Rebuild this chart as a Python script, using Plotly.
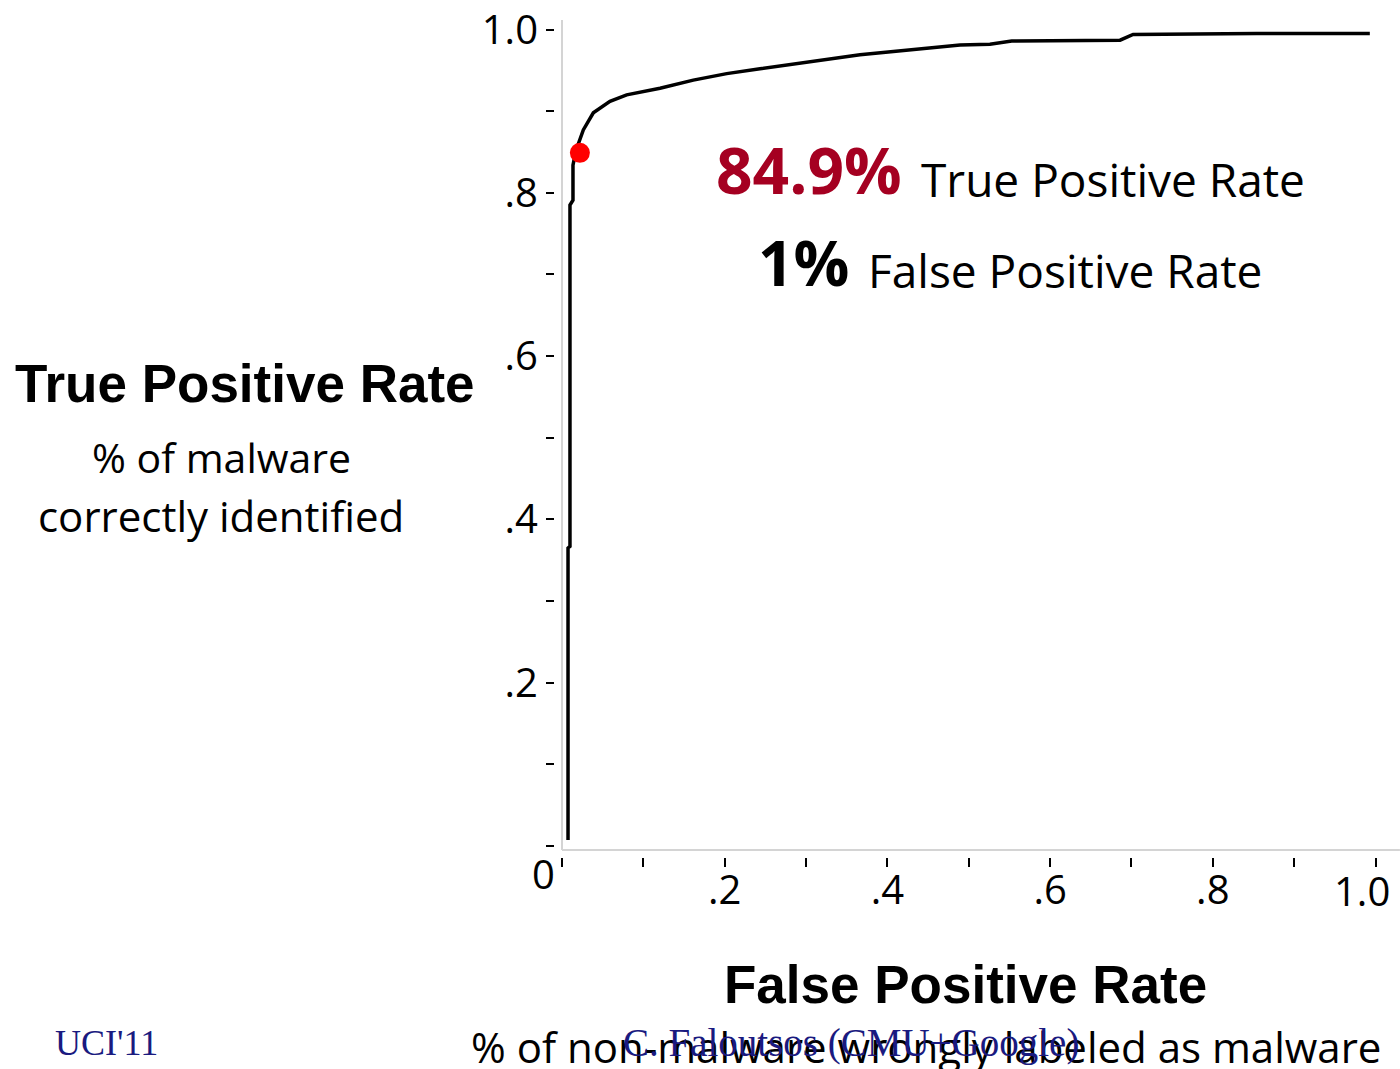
import plotly.graph_objects as go

# ROC curve data
fpr = [0.0074, 0.0074, 0.0098, 0.0098, 0.0135, 0.0135, 0.0172, 0.0262, 0.0385, 0.0590, 0.0795,
       0.1205, 0.1614, 0.2025, 0.2434, 0.2843, 0.3254, 0.3663, 0.4073, 0.4483, 0.4893, 0.526,
       0.5528, 0.686, 0.702, 0.854, 0.993]
tpr = [0.0073, 0.365, 0.367, 0.785, 0.791, 0.834, 0.852, 0.877, 0.898, 0.912, 0.920,
       0.928, 0.938, 0.946, 0.952, 0.958, 0.964, 0.969, 0.973, 0.977, 0.981, 0.982,
       0.986, 0.987, 0.994, 0.995, 0.995]
point_fpr = [0.022]
point_tpr = [0.849]

tick_vals = [0, 0.1, 0.2, 0.3, 0.4, 0.5, 0.6, 0.7, 0.8, 0.9, 1.0]
y_tick_text = ["", "", ".2", "", ".4", "", ".6", "", ".8", "", "1.0"]
x_tick_text = ["", "", ".2", "", ".4", "", ".6", "", ".8", "", ""]
x_last_label = "1.0"
origin_label = "0"

W, H = 1400, 1069
L, R, T, B = 555, 1400, 15, 857
PW, PH = R - L, B - T


def pxx(x):
    return (x - L) / PW


def pyy(y):
    return (B - y) / PH


fig = go.Figure()
fig.add_trace(go.Scatter(x=fpr, y=tpr, mode="lines",
                         line=dict(color="black", width=3.5), hoverinfo="skip"))
fig.add_trace(go.Scatter(x=point_fpr, y=point_tpr, mode="markers",
                         marker=dict(color="#ff0000", size=20), hoverinfo="skip"))

tickfont = dict(family="Open Sans", size=40, color="black")
fig.update_layout(
    width=W, height=H,
    margin=dict(l=L, r=W - R, t=T, b=H - B, pad=0),
    plot_bgcolor="white", paper_bgcolor="white",
    showlegend=False,
    xaxis=dict(range=[-0.0086, 1.0301], tickmode="array", tickvals=tick_vals,
               ticktext=x_tick_text, ticks="outside", ticklen=9, tickwidth=1.5,
               tickcolor="black", showgrid=False, zeroline=False, showline=False,
               tickfont=tickfont, ticklabelstandoff=-11),
    yaxis=dict(range=[-0.01347, 1.0178], tickmode="array", tickvals=tick_vals,
               ticktext=y_tick_text, ticks="outside", ticklen=8, tickwidth=1.5,
               tickcolor="black", showgrid=False, zeroline=False, showline=False,
               tickfont=tickfont),
)

# light grey axis lines
fig.add_shape(type="line", xref="x", yref="y", x0=0, x1=0, y0=-0.0049, y1=1.0116,
              line=dict(color="#d4d4d4", width=2), layer="below")
fig.add_shape(type="line", xref="x", yref="y", x0=0, x1=1.03, y0=-0.0049, y1=-0.0049,
              line=dict(color="#d4d4d4", width=2), layer="below")

ann = []
sans = "Open Sans"
ann.append(dict(text=origin_label, x=pxx(543), y=pyy(873), xanchor="center", yanchor="middle",
                font=dict(family=sans, size=40, color="black")))
ann.append(dict(text=x_last_label, x=pxx(1392), y=pyy(890), xanchor="right", yanchor="middle",
                font=dict(family=sans, size=40, color="black")))
ann.append(dict(text="<b>84.9%</b>", x=pxx(714), y=pyy(170), xanchor="left", yanchor="middle",
                font=dict(family=sans, size=64, color="#a50021")))
ann.append(dict(text="True Positive Rate", x=pxx(919), y=pyy(179), xanchor="left", yanchor="middle",
                font=dict(family=sans, size=46, color="black")))
ann.append(dict(text="<b>1%</b>", x=pxx(756), y=pyy(262), xanchor="left", yanchor="middle",
                font=dict(family=sans, size=62, color="black")))
ann.append(dict(text="False Positive Rate", x=pxx(866), y=pyy(270), xanchor="left", yanchor="middle",
                font=dict(family=sans, size=46, color="black")))
ann.append(dict(text="<b>True Positive Rate</b>", x=pxx(245), y=pyy(383), xanchor="center", yanchor="middle",
                font=dict(family="Liberation Sans", size=53, color="black")))
ann.append(dict(text="% of malware", x=pxx(221), y=pyy(457), xanchor="center", yanchor="middle",
                font=dict(family=sans, size=41, color="black")))
ann.append(dict(text="correctly identified", x=pxx(221), y=pyy(515), xanchor="center", yanchor="middle",
                font=dict(family=sans, size=42, color="black")))
ann.append(dict(text="<b>False Positive Rate</b>", x=pxx(965), y=pyy(984), xanchor="center", yanchor="middle",
                font=dict(family="Liberation Sans", size=53, color="black")))
ann.append(dict(text="% of non-malware wrongly labeled as malware", x=pxx(926), y=pyy(1046),
                xanchor="center", yanchor="middle",
                font=dict(family=sans, size=42, color="black")))
ann.append(dict(text="C. Faloutsos (CMU+Google)", x=pxx(851), y=pyy(1043), xanchor="center", yanchor="middle",
                font=dict(family="Liberation Serif", size=39, color="#1a1a80")))
ann.append(dict(text="UCI'11", x=pxx(106), y=pyy(1043), xanchor="center", yanchor="middle",
                font=dict(family="Liberation Serif", size=36, color="#1a1a80")))

for a in ann:
    a.update(xref="paper", yref="paper", showarrow=False)
fig.update_layout(annotations=ann)

fig.write_html("out.html", config={"displayModeBar": False},
               post_script="document.body.style.margin='0';document.body.style.overflow='hidden';")
